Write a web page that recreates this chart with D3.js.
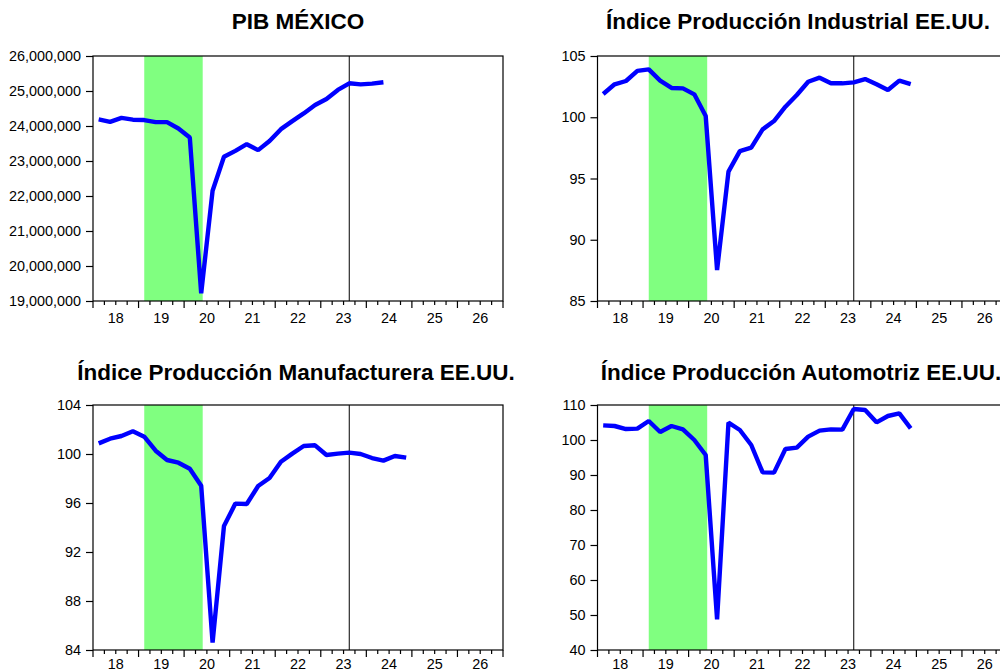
<!DOCTYPE html>
<html>
<head>
<meta charset="utf-8">
<script src="https://cdn.jsdelivr.net/npm/d3@7/dist/d3.min.js"></script>
<style>
  html, body { margin: 0; padding: 0; background: #ffffff; }
  svg { display: block; }
  text { font-family: "Liberation Sans", Arial, sans-serif; fill: #000; }
</style>
</head>
<body>
<svg id="chart" width="1000" height="672"></svg>
<script>
// Quarterly observations
const quarters = [
  "2018Q1","2018Q2","2018Q3","2018Q4",
  "2019Q1","2019Q2","2019Q3","2019Q4",
  "2020Q1","2020Q2","2020Q3","2020Q4",
  "2021Q1","2021Q2","2021Q3","2021Q4",
  "2022Q1","2022Q2","2022Q3","2022Q4",
  "2023Q1","2023Q2","2023Q3","2023Q4",
  "2024Q1","2024Q2","2024Q3","2024Q4"
];

// PIB México (2018Q1 - 2024Q2)
const pibMexico = [
  24190000, 24120000, 24230000, 24180000,
  24170000, 24110000, 24110000, 23930000,
  23670000, 19220000, 22150000, 23120000,
  23290000, 23480000, 23310000, 23570000,
  23910000, 24140000, 24360000, 24600000,
  24770000, 25030000, 25220000, 25190000,
  25210000, 25250000
];

// Índice Producción Industrial EE.UU.
const prodIndustrial = [
  101.9, 102.69, 102.96, 103.78,
  103.91, 102.99, 102.39, 102.36,
  101.87, 100.1, 87.53, 95.56,
  97.24, 97.52, 99.01, 99.69,
  100.86, 101.82, 102.9, 103.23,
  102.77, 102.77, 102.85, 103.12,
  102.69, 102.22, 102.99, 102.71
];

// Índice Producción Manufacturera EE.UU.
const prodManufacturera = [
  100.87, 101.25, 101.47, 101.85,
  101.41, 100.27, 99.51, 99.29,
  98.8, 97.41, 84.6, 94.12,
  95.95, 95.92, 97.39, 98.04,
  99.37, 100.03, 100.65, 100.71,
  99.92, 100.03, 100.11, 100.0,
  99.67, 99.46, 99.84, 99.7
];

// Índice Producción Automotriz EE.UU.
const prodAutomotriz = [
  104.19, 104.0, 103.14, 103.24,
  105.43, 102.29, 104.0, 103.05,
  100.0, 95.71, 48.76, 104.95,
  102.86, 98.57, 90.76, 90.67,
  97.43, 97.81, 100.95, 102.67,
  103.05, 102.95, 108.86, 108.57,
  105.05, 106.86, 107.62, 103.33
];

// Axis ticks
const yearLabels = ["18","19","20","21","22","23","24","25","26"];
const pibTicks = [19000000, 20000000, 21000000, 22000000, 23000000, 24000000, 25000000, 26000000];
const industrialTicks = [85, 90, 95, 100, 105];
const manufacturaTicks = [84, 88, 92, 96, 100, 104];
const automotrizTicks = [40, 50, 60, 70, 80, 90, 100, 110];

// Shaded period and reference marker
const shadeFrom = "2019Q1";
const shadeTo = "2020Q2";
const markerAt = "2023Q3";

// Convert "YYYYQn" to a fractional year at the middle of the quarter
function periodPos(p) {
  const y = +p.slice(0, 4), q = +p.slice(5);
  return y + (q - 0.5) / 4;
}

const panels = [
  { title: "PIB MÉXICO", titleX: 298, titleY: 29, left: 93, top: 56, labelY: 22,
    values: pibMexico, domain: [19000000, 26000000], ticks: pibTicks, fmt: d3.format(",") },
  { title: "Índice Producción Industrial EE.UU.", titleX: 798, titleY: 29, left: 597.5, top: 56, labelY: 22,
    values: prodIndustrial, domain: [85, 105], ticks: industrialTicks, fmt: d3.format("d") },
  { title: "Índice Producción Manufacturera EE.UU.", titleX: 296, titleY: 380, left: 93, top: 405, labelY: 18.5,
    values: prodManufacturera, domain: [84, 104], ticks: manufacturaTicks, fmt: d3.format("d") },
  { title: "Índice Producción Automotriz EE.UU.", titleX: 801, titleY: 380, left: 597.5, top: 405, labelY: 18.5,
    values: prodAutomotriz, domain: [40, 110], ticks: automotrizTicks, fmt: d3.format("d") }
];

const W = 410, H = 245;
const svg = d3.select("#chart");

panels.forEach(p => {
  const g = svg.append("g").attr("transform", `translate(${p.left},${p.top})`);
  const x = d3.scaleLinear().domain([2018, 2027]).range([0, W]);
  const y = d3.scaleLinear().domain(p.domain).range([H, 0]);

  // Title
  svg.append("text")
    .attr("x", p.titleX).attr("y", p.titleY)
    .attr("text-anchor", "middle")
    .style("font-weight", "bold")
    .style("font-size", "22.5px")
    .text(p.title);

  // Shaded band
  g.append("rect")
    .attr("x", x(periodPos(shadeFrom)))
    .attr("y", 0)
    .attr("width", x(periodPos(shadeTo)) - x(periodPos(shadeFrom)) + 1.5)
    .attr("height", H)
    .attr("fill", "#80ff80");

  // Vertical reference line
  g.append("line")
    .attr("x1", x(periodPos(markerAt))).attr("x2", x(periodPos(markerAt)))
    .attr("y1", 0).attr("y2", H)
    .attr("stroke", "#000").attr("stroke-width", 1);

  // Series line
  const pts = p.values.map((v, i) => [periodPos(quarters[i]), v]);
  g.append("path")
    .datum(pts)
    .attr("fill", "none")
    .attr("stroke", "#0000ff")
    .attr("stroke-width", 4.4)
    .attr("stroke-linejoin", "bevel")
    .attr("d", d3.line().x(d => x(d[0])).y(d => y(d[1])));

  // Frame
  g.append("rect")
    .attr("x", 0).attr("y", 0).attr("width", W).attr("height", H)
    .attr("fill", "none").attr("stroke", "#000").attr("stroke-width", 1.2);

  // Y axis
  const yAxis = g.append("g")
    .call(d3.axisLeft(y).tickValues(p.ticks).tickFormat(p.fmt).tickSize(7).tickPadding(5));
  yAxis.select(".domain").remove();
  yAxis.selectAll("line").attr("stroke", "#000").attr("stroke-width", 1.2);
  yAxis.selectAll("text").style("font-size", "14.4px").attr("font-family", null).attr("fill", "#000");

  // X axis: quarter ticks (minor) and year ticks (major)
  const qTicks = d3.range(2018, 2027.001, 0.25);
  const xg = g.append("g").attr("transform", `translate(0,${H})`);
  xg.selectAll("line.tick")
    .data(qTicks)
    .join("line")
    .attr("x1", d => x(d)).attr("x2", d => x(d))
    .attr("y1", 0)
    .attr("y2", d => Math.abs(d - Math.round(d)) < 1e-6 ? 7 : 4)
    .attr("stroke", "#000").attr("stroke-width", 1.2);
  xg.selectAll("text")
    .data(yearLabels)
    .join("text")
    .attr("x", (d, i) => x(2018 + i + 0.5))
    .attr("y", p.labelY)
    .attr("text-anchor", "middle")
    .style("font-size", "14.4px")
    .text(d => d);
});
</script>
</body>
</html>
